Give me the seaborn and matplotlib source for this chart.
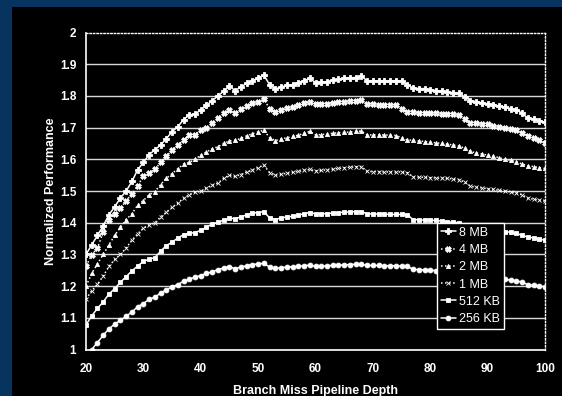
import matplotlib
matplotlib.use("Agg")
import matplotlib.pyplot as plt
from matplotlib.patches import Rectangle
import seaborn as sns
import pandas as pd

depth = list(range(20, 101))

mb8 = [1.300, 1.33, 1.36, 1.39, 1.425, 1.45, 1.478, 1.50, 1.53, 1.567,
       1.59, 1.615, 1.63, 1.645, 1.665, 1.687, 1.703, 1.725, 1.74, 1.743,
       1.755, 1.77, 1.785, 1.80, 1.815, 1.83, 1.817, 1.828, 1.84, 1.848,
       1.856, 1.866, 1.835, 1.822, 1.828, 1.833, 1.835, 1.842, 1.848, 1.855,
       1.842, 1.843, 1.845, 1.85, 1.852, 1.855, 1.857, 1.858, 1.862, 1.848,
       1.846, 1.848, 1.847, 1.847, 1.848, 1.846, 1.835, 1.825, 1.823, 1.823,
       1.82, 1.817, 1.815, 1.812, 1.81, 1.808, 1.797, 1.785, 1.782, 1.778,
       1.775, 1.772, 1.768, 1.765, 1.76, 1.757, 1.745, 1.73, 1.727, 1.722,
       1.717]

mb4 = [1.263, 1.298, 1.32, 1.37, 1.41, 1.427, 1.445, 1.47, 1.49, 1.515,
       1.548, 1.558, 1.568, 1.59, 1.61, 1.628, 1.645, 1.66, 1.677, 1.678,
       1.693, 1.70, 1.715, 1.73, 1.745, 1.756, 1.745, 1.76, 1.768, 1.778,
       1.782, 1.789, 1.76, 1.75, 1.757, 1.762, 1.765, 1.77, 1.777, 1.782,
       1.774, 1.774, 1.776, 1.779, 1.781, 1.782, 1.784, 1.785, 1.787, 1.775,
       1.773, 1.771, 1.771, 1.771, 1.77, 1.76, 1.75, 1.748, 1.747, 1.747,
       1.746, 1.745, 1.744, 1.743, 1.742, 1.74, 1.728, 1.714, 1.713, 1.712,
       1.71, 1.706, 1.702, 1.698, 1.695, 1.692, 1.684, 1.675, 1.668, 1.66,
       1.652]

mb2 = [1.20, 1.24, 1.27, 1.30, 1.33, 1.36, 1.385, 1.41, 1.428, 1.455,
       1.47, 1.488, 1.498, 1.52, 1.54, 1.555, 1.57, 1.585, 1.59, 1.60,
       1.613, 1.623, 1.633, 1.64, 1.65, 1.658, 1.66, 1.666, 1.674, 1.681,
       1.686, 1.692, 1.668, 1.659, 1.664, 1.668, 1.672, 1.676, 1.682, 1.688,
       1.677, 1.678, 1.68, 1.682, 1.684, 1.685, 1.686, 1.688, 1.689, 1.677,
       1.677, 1.677, 1.677, 1.676, 1.675, 1.668, 1.661, 1.66, 1.658, 1.656,
       1.654, 1.652, 1.65, 1.648, 1.645, 1.642, 1.635, 1.625, 1.62, 1.617,
       1.613, 1.61, 1.605, 1.60, 1.597, 1.593, 1.585, 1.58, 1.577, 1.574,
       1.571]

mb1 = [1.159, 1.185, 1.206, 1.232, 1.262, 1.284, 1.30, 1.32, 1.345, 1.365,
       1.383, 1.392, 1.40, 1.418, 1.433, 1.448, 1.462, 1.477, 1.488, 1.496,
       1.499, 1.51, 1.518, 1.525, 1.54, 1.55, 1.546, 1.552, 1.56, 1.566,
       1.574, 1.582, 1.558, 1.55, 1.553, 1.556, 1.559, 1.562, 1.565, 1.568,
       1.563, 1.565, 1.567, 1.569, 1.571, 1.573, 1.575, 1.576, 1.577, 1.562,
       1.561, 1.561, 1.56, 1.56, 1.56, 1.56, 1.558, 1.545, 1.544, 1.543,
       1.542, 1.541, 1.54, 1.54, 1.538, 1.536, 1.528, 1.515, 1.512, 1.51,
       1.507, 1.505, 1.502, 1.50, 1.497, 1.494, 1.488, 1.478, 1.474, 1.471,
       1.468]

kb512 = [1.078, 1.106, 1.13, 1.15, 1.175, 1.192, 1.212, 1.23, 1.248, 1.263,
         1.278, 1.285, 1.29, 1.31, 1.328, 1.338, 1.352, 1.362, 1.366, 1.369,
         1.376, 1.386, 1.396, 1.401, 1.408, 1.414, 1.413, 1.418, 1.425, 1.43,
         1.432, 1.435, 1.415, 1.41, 1.415, 1.418, 1.42, 1.424, 1.428, 1.432,
         1.428, 1.428, 1.429, 1.43, 1.432, 1.433, 1.434, 1.435, 1.435, 1.428,
         1.428, 1.427, 1.427, 1.426, 1.426, 1.426, 1.425, 1.41, 1.409, 1.408,
         1.408, 1.407, 1.405, 1.403, 1.401, 1.40, 1.393, 1.385, 1.383, 1.381,
         1.379, 1.377, 1.375, 1.372, 1.37, 1.367, 1.36, 1.355, 1.352, 1.348,
         1.345]

kb256 = [0.985, 1.0, 1.022, 1.045, 1.065, 1.08, 1.092, 1.105, 1.118, 1.135,
         1.145, 1.158, 1.165, 1.178, 1.188, 1.198, 1.205, 1.215, 1.222, 1.228,
         1.233, 1.24, 1.245, 1.252, 1.257, 1.261, 1.255, 1.26, 1.264, 1.268,
         1.27, 1.272, 1.26, 1.256, 1.258, 1.26, 1.261, 1.262, 1.264, 1.266,
         1.262, 1.263, 1.264, 1.265, 1.266, 1.267, 1.268, 1.269, 1.269, 1.265,
         1.265, 1.265, 1.264, 1.264, 1.264, 1.263, 1.262, 1.253, 1.252, 1.251,
         1.25, 1.249, 1.248, 1.247, 1.245, 1.243, 1.238, 1.232, 1.23, 1.228,
         1.227, 1.225, 1.223, 1.221, 1.219, 1.217, 1.212, 1.205, 1.203, 1.2,
         1.198]

labels = ["8 MB", "4 MB", "2 MB", "1 MB", "512 KB", "256 KB"]
series = [mb8, mb4, mb2, mb1, kb512, kb256]
x_ticks = [20, 30, 40, 50, 60, 70, 80, 90, 100]
y_ticks = [1, 1.1, 1.2, 1.3, 1.4, 1.5, 1.6, 1.7, 1.8, 1.9, 2]
y_ticklabels = ["1", "1.1", "1.2", "1.3", "1.4", "1.5", "1.6", "1.7", "1.8", "1.9", "2"]

styles = {
    "8 MB": dict(marker="P", linestyle="-", ms=4),
    "4 MB": dict(marker="X", linestyle=":", ms=4),
    "2 MB": dict(marker="^", linestyle=":", ms=3),
    "1 MB": dict(marker="x", linestyle=":", ms=3.5),
    "512 KB": dict(marker="s", linestyle="-", ms=3.5),
    "256 KB": dict(marker="o", linestyle="-", ms=3.5),
}

sns.set_theme(style="dark")
plt.rcParams["font.family"] = ["Liberation Sans", "DejaVu Sans"]

fig = plt.figure(figsize=(5.62, 3.96), dpi=100, facecolor="black")
fig.patches.append(Rectangle((0, 1 - 7 / 396), 1, 7 / 396, transform=fig.transFigure,
                             facecolor="#07335f", edgecolor="none", zorder=0))
fig.patches.append(Rectangle((0, 0), 12 / 562, 1, transform=fig.transFigure,
                             facecolor="#07335f", edgecolor="none", zorder=0))

ax = fig.add_axes([86 / 562, 1 - 349.5 / 396, (545 - 86) / 562, 317 / 396])
ax.set_facecolor("black")

for lab, vals in zip(labels, series):
    df = pd.DataFrame({"depth": depth, "perf": vals})
    st = styles[lab]
    sns.lineplot(data=df, x="depth", y="perf", ax=ax, color="white", label=lab,
                 marker=st["marker"], linestyle=st["linestyle"], markersize=st["ms"],
                 markeredgewidth=0.6, markeredgecolor="white", linewidth=1.1)

ax.set_xlim(20, 100)
ax.set_ylim(1, 2)
ax.set_xticks(x_ticks)
ax.set_yticks(y_ticks)
ax.set_yticklabels(y_ticklabels)
ax.tick_params(axis="both", colors="white", labelcolor="white", labelsize=8.5,
               length=3, width=1, direction="out")
ax.tick_params(axis="y", pad=4)
ax.tick_params(axis="x", pad=7)
for t in ax.get_xticklabels() + ax.get_yticklabels():
    t.set_fontweight("bold")

ax.grid(axis="y", color="#d8d8d8", linewidth=1.0)
ax.grid(axis="x", visible=False)
gl = ax.yaxis.get_gridlines()
gl[-1].set_visible(False)

for side in ["left", "bottom"]:
    ax.spines[side].set_visible(True)
    ax.spines[side].set_color("white")
    ax.spines[side].set_linewidth(1.2)
for side in ["top", "right"]:
    ax.spines[side].set_visible(True)
    ax.spines[side].set_color("white")
    ax.spines[side].set_linestyle((0, (1, 1.5)))
    ax.spines[side].set_linewidth(1.0)

ax.set_xlabel("Branch Miss Pipeline Depth", color="white", fontsize=9, fontweight="bold", labelpad=7)
ax.set_ylabel("Normalized Performance", color="white", fontsize=9, fontweight="bold", labelpad=2)

leg = ax.legend(loc="upper left", bbox_to_anchor=(0.765, 0.399), borderaxespad=0,
                frameon=True, fancybox=False, framealpha=1, facecolor="black",
                edgecolor="white", fontsize=9, handlelength=1.2, handletextpad=0.25,
                labelspacing=0.42, borderpad=0.3)
leg.get_frame().set_linewidth(1.0)
for t in leg.get_texts():
    t.set_color("white")

fig.savefig("out.png", dpi=100, facecolor=fig.get_facecolor())
